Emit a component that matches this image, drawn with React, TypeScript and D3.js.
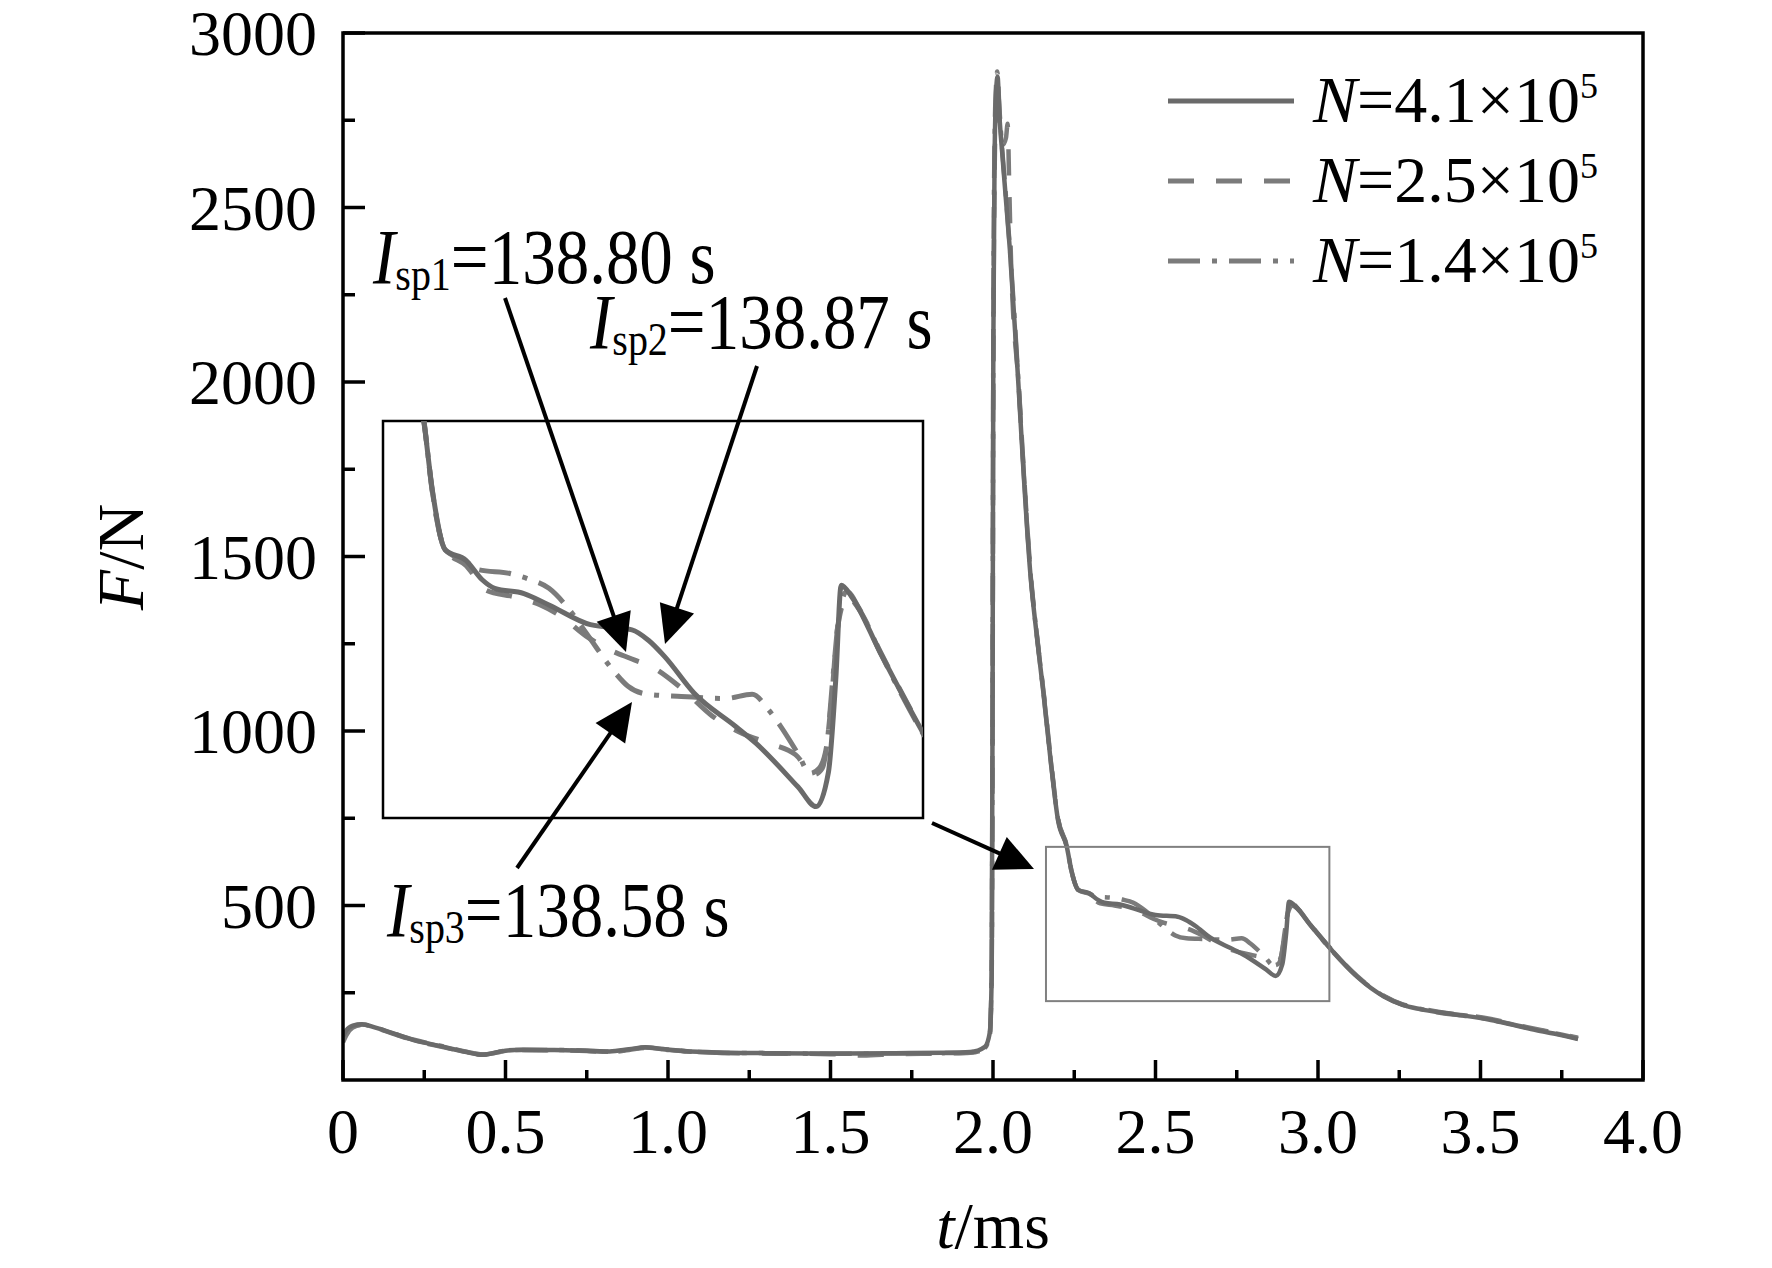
import React from 'react';
import * as d3 from 'd3';

type Pt = [number, number];

// thrust curves, [t (ms), F (N)]
const n41: Pt[] = [
  [0, 125], [0.01, 142], [0.03, 156], [0.058, 160], [0.1, 150], [0.16, 132], [0.215, 115],
  [0.3, 97], [0.38, 80], [0.43, 72], [0.47, 79], [0.5, 84], [0.55, 87], [0.65, 86], [0.75, 84],
  [0.82, 82], [0.88, 88], [0.93, 94], [0.98, 89], [1.05, 83], [1.15, 79], [1.3, 77], [1.5, 76],
  [1.7, 77], [1.85, 78], [1.93, 80], [1.975, 95], [1.99, 135], [1.996, 300], [1.999, 1200],
  [2.001, 2100], [2.005, 2650], [2.01, 2840], [2.014, 2875], [2.02, 2760], [2.028, 2660],
  [2.04, 2520], [2.052, 2378], [2.078, 1996], [2.093, 1757], [2.114, 1461], [2.135, 1270],
  [2.155, 1110], [2.178, 910], [2.2, 745], [2.227, 668], [2.241, 602], [2.262, 545],
  [2.296, 535], [2.323, 516], [2.343, 508], [2.391, 503], [2.432, 492], [2.5, 473],
  [2.568, 468], [2.595, 458], [2.622, 442], [2.67, 407], [2.738, 375], [2.771, 359],
  [2.84, 317], [2.87, 298], [2.89, 331], [2.902, 420], [2.911, 511], [2.928, 500],
  [2.975, 446], [3.045, 369], [3.12, 296], [3.203, 239], [3.26, 215], [3.313, 203],
  [3.395, 191], [3.46, 183], [3.532, 172], [3.6, 158], [3.67, 143], [3.74, 130], [3.8, 117],
];

const n25: Pt[] = [
  [0, 108], [0.01, 128], [0.03, 150], [0.06, 158], [0.1, 149], [0.16, 131], [0.215, 114],
  [0.3, 96], [0.38, 80], [0.43, 73], [0.47, 78], [0.5, 83], [0.55, 86], [0.65, 85], [0.75, 83],
  [0.82, 80], [0.88, 86], [0.93, 92], [0.98, 88], [1.05, 82], [1.15, 78], [1.3, 76], [1.5, 74],
  [1.6, 70], [1.7, 74], [1.85, 76], [1.93, 78], [1.975, 90], [1.99, 125], [1.996, 300],
  [1.999, 1150], [2.001, 2050], [2.005, 2600], [2.01, 2800], [2.015, 2850], [2.022, 2720],
  [2.03, 2680], [2.04, 2700], [2.045, 2740], [2.05, 2560], [2.056, 2330], [2.08, 1980],
  [2.095, 1740], [2.116, 1450], [2.137, 1260], [2.157, 1100], [2.18, 900], [2.2, 750],
  [2.227, 670], [2.241, 600], [2.262, 545], [2.296, 530], [2.33, 506], [2.374, 500],
  [2.418, 492], [2.452, 481], [2.493, 462], [2.527, 450], [2.568, 440], [2.602, 432],
  [2.649, 412], [2.7, 385], [2.75, 368], [2.792, 359], [2.836, 348], [2.867, 329],
  [2.88, 335], [2.895, 400], [2.905, 470], [2.921, 500], [2.94, 488], [2.975, 447],
  [3.045, 370], [3.12, 298], [3.203, 241], [3.26, 217], [3.313, 206], [3.395, 192],
  [3.46, 185], [3.532, 175], [3.6, 160], [3.67, 146], [3.74, 133], [3.8, 121],
];

const n14: Pt[] = [
  [0, 118], [0.01, 136], [0.03, 153], [0.06, 159], [0.1, 150], [0.16, 132], [0.215, 116],
  [0.3, 98], [0.38, 81], [0.43, 73], [0.47, 79], [0.5, 84], [0.55, 86], [0.65, 86], [0.75, 84],
  [0.82, 81], [0.88, 87], [0.93, 93], [0.98, 89], [1.05, 83], [1.15, 78], [1.3, 77], [1.5, 75],
  [1.7, 76], [1.85, 77], [1.93, 79], [1.975, 92], [1.99, 130], [1.996, 320], [1.999, 1250],
  [2.001, 2150], [2.005, 2700], [2.01, 2860], [2.013, 2890], [2.02, 2780], [2.028, 2670],
  [2.04, 2530], [2.053, 2370], [2.079, 1990], [2.094, 1750], [2.115, 1455], [2.136, 1265],
  [2.156, 1105], [2.179, 905], [2.2, 748], [2.227, 669], [2.241, 601], [2.262, 545],
  [2.296, 534], [2.316, 526], [2.37, 522], [2.398, 517], [2.432, 508], [2.466, 487],
  [2.493, 465], [2.54, 427], [2.561, 414], [2.595, 406], [2.649, 404], [2.721, 402],
  [2.765, 406], [2.792, 391], [2.812, 375], [2.84, 349], [2.86, 330], [2.875, 335],
  [2.887, 356], [2.897, 420], [2.908, 484], [2.92, 505], [2.94, 489], [2.975, 446],
  [3.045, 368], [3.12, 297], [3.203, 240], [3.26, 216], [3.313, 204], [3.395, 190],
  [3.46, 184], [3.532, 173], [3.6, 159], [3.67, 145], [3.74, 132], [3.8, 119],
];

const seriesNames = ['4.1', '2.5', '1.4'];
const seriesData = [n41, n25, n14];
const seriesDash = ['none', '26 22', '32 12 5 12'];
const seriesColor = ['#6a6a6a', '#7b7b7b', '#7b7b7b'];

const tMajor = [0, 0.5, 1, 1.5, 2, 2.5, 3, 3.5, 4];
const tLabels = ['0', '0.5', '1.0', '1.5', '2.0', '2.5', '3.0', '3.5', '4.0'];
const tMinor = [0.25, 0.75, 1.25, 1.75, 2.25, 2.75, 3.25, 3.75];
const fMajor = [500, 1000, 1500, 2000, 2500, 3000];
const fMinor = [250, 750, 1250, 1750, 2250, 2750];

// zoomed window (small box) and what the inset shows
const boxT = [2.163, 3.035];
const boxF = [226, 668];
const insetT = [2.16, 3.045];
const insetF = [287, 669];

const isp = [
  { sub: 'sp1', value: '=138.80 s' },
  { sub: 'sp2', value: '=138.87 s' },
  { sub: 'sp3', value: '=138.58 s' },
];

const FONT = '"Liberation Serif", "Times New Roman", serif';

function arrowHead(x0: number, y0: number, x1: number, y1: number, len = 38, half = 18) {
  const a = Math.atan2(y1 - y0, x1 - x0);
  const bx = x1 - len * Math.cos(a);
  const by = y1 - len * Math.sin(a);
  const px = -Math.sin(a) * half;
  const py = Math.cos(a) * half;
  return `M${x1},${y1}L${bx + px},${by + py}L${bx - px},${by - py}Z`;
}

function Arrow({ from, to }: { from: Pt; to: Pt }) {
  const a = Math.atan2(to[1] - from[1], to[0] - from[0]);
  const ex = to[0] - 30 * Math.cos(a);
  const ey = to[1] - 30 * Math.sin(a);
  return (
    <g>
      <line x1={from[0]} y1={from[1]} x2={ex} y2={ey} stroke="#000" strokeWidth={4} />
      <path d={arrowHead(from[0], from[1], to[0], to[1])} fill="#000" />
    </g>
  );
}

export default function App() {
  const W = 1772;
  const H = 1268;
  const x = d3.scaleLinear().domain([0, 4]).range([343, 1643]);
  const y = d3.scaleLinear().domain([0, 3000]).range([1080, 33]);

  const inset = { x0: 383, x1: 923, y0: 421, y1: 818 };
  const xi = d3.scaleLinear().domain(insetT).range([inset.x0, inset.x1]);
  const yi = d3.scaleLinear().domain(insetF).range([inset.y1, inset.y0]);

  const line = d3
    .line<Pt>()
    .x((d) => x(d[0]))
    .y((d) => y(d[1]))
    .curve(d3.curveMonotoneX);
  const lineInset = d3
    .line<Pt>()
    .x((d) => xi(d[0]))
    .y((d) => yi(d[1]))
    .curve(d3.curveMonotoneX);

  const order = [2, 1, 0];
  const annPos: Pt[] = [[373, 283], [590, 348], [387, 936]];

  return (
    <svg
      width={W}
      height={H}
      viewBox={`0 0 ${W} ${H}`}
      style={{ position: 'absolute', left: 0, top: 0, background: '#fff' }}
      fontFamily={FONT}
    >
      <rect width={W} height={H} fill="#fff" />
      <defs>
        <clipPath id="plotClip">
          <rect x={343} y={33} width={1300} height={1047} />
        </clipPath>
        <clipPath id="insetClip">
          <rect x={inset.x0} y={inset.y0} width={inset.x1 - inset.x0} height={inset.y1 - inset.y0} />
        </clipPath>
      </defs>

      {/* main curves */}
      <g clipPath="url(#plotClip)" fill="none" strokeLinejoin="round">
        {order.map((i) => (
          <path
            key={i}
            d={line(seriesData[i]) || ''}
            stroke={seriesColor[i]}
            strokeWidth={4.5}
            strokeDasharray={seriesDash[i]}
          />
        ))}
      </g>

      {/* small box marking the zoomed region */}
      <rect
        x={x(boxT[0])}
        y={y(boxF[1])}
        width={x(boxT[1]) - x(boxT[0])}
        height={y(boxF[0]) - y(boxF[1])}
        fill="none"
        stroke="#808080"
        strokeWidth={2}
      />

      {/* inset */}
      <rect
        x={inset.x0}
        y={inset.y0}
        width={inset.x1 - inset.x0}
        height={inset.y1 - inset.y0}
        fill="#fff"
        stroke="#000"
        strokeWidth={2.5}
      />
      <g clipPath="url(#insetClip)" fill="none" strokeLinejoin="round">
        {order.map((i) => (
          <path
            key={i}
            d={lineInset(seriesData[i]) || ''}
            stroke={seriesColor[i]}
            strokeWidth={5}
            strokeDasharray={seriesDash[i]}
          />
        ))}
      </g>

      {/* axes frame */}
      <rect x={343} y={33} width={1300} height={1047} fill="none" stroke="#000" strokeWidth={3.5} />

      {/* x ticks */}
      {tMajor.map((t, i) => (
        <g key={'xt' + t}>
          <line x1={x(t)} x2={x(t)} y1={1080} y2={1060} stroke="#000" strokeWidth={3.5} />
          <text x={x(t)} y={1153} fontSize={64} textAnchor="middle">
            {tLabels[i]}
          </text>
        </g>
      ))}
      {tMinor.map((t) => (
        <line key={'xm' + t} x1={x(t)} x2={x(t)} y1={1080} y2={1070} stroke="#000" strokeWidth={3.5} />
      ))}

      {/* y ticks */}
      {fMajor.map((f) => (
        <g key={'yt' + f}>
          <line x1={343} x2={365} y1={y(f)} y2={y(f)} stroke="#000" strokeWidth={3.5} />
          <text x={317} y={y(f) + 22} fontSize={64} textAnchor="end">
            {f}
          </text>
        </g>
      ))}
      {fMinor.map((f) => (
        <line key={'ym' + f} x1={343} x2={355} y1={y(f)} y2={y(f)} stroke="#000" strokeWidth={3.5} />
      ))}

      {/* axis titles */}
      <text x={993} y={1248} fontSize={66} textAnchor="middle">
        <tspan fontStyle="italic">t</tspan>/ms
      </text>
      <text transform="translate(143,557) rotate(-90)" fontSize={66} textAnchor="middle">
        <tspan fontStyle="italic">F</tspan>/N
      </text>

      {/* legend */}
      {seriesNames.map((n, i) => {
        const ly = 101 + i * 80;
        return (
          <g key={'lg' + n}>
            <line
              x1={1168}
              x2={1294}
              y1={ly}
              y2={ly}
              stroke={seriesColor[i]}
              strokeWidth={5}
              strokeDasharray={seriesDash[i]}
            />
            <text x={1313} y={ly + 21} fontSize={66}>
              <tspan fontStyle="italic">N</tspan>
              <tspan>{`=${n}×10`}</tspan>
              <tspan fontSize={36} dy={-24}>5</tspan>
            </text>
          </g>
        );
      })}

      {/* specific impulse annotations */}
      {isp.map((a, i) => (
        <g key={a.sub} transform={`translate(${annPos[i][0]},${annPos[i][1]}) scale(1,1.16)`}>
          <text x={0} y={0} fontSize={67}>
            <tspan fontStyle="italic">I</tspan>
            <tspan fontSize={40} dy={6}>{a.sub}</tspan>
            <tspan dy={-6}>{a.value}</tspan>
          </text>
        </g>
      ))}
      <Arrow from={[505, 298]} to={[626, 652]} />
      <Arrow from={[757, 366]} to={[665, 644]} />
      <Arrow from={[517, 868]} to={[632, 702]} />
      <Arrow from={[932, 823]} to={[1034, 869]} />
    </svg>
  );
}
